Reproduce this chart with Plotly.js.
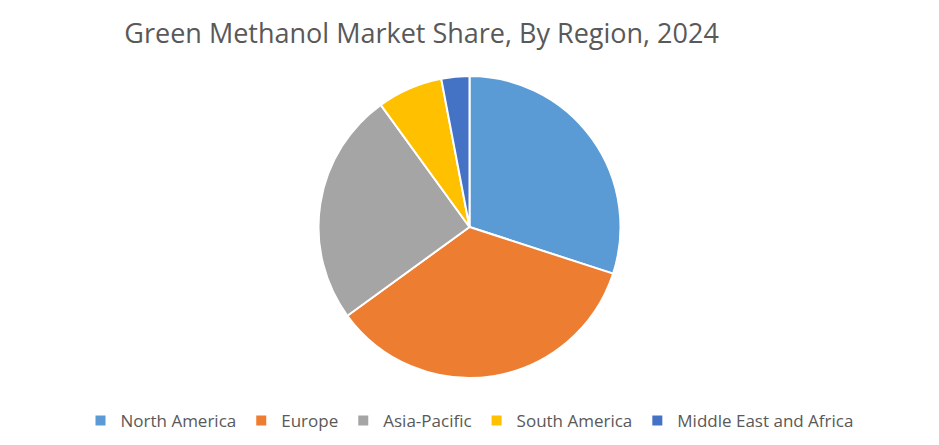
<!DOCTYPE html>
<html>
<head>
<meta charset="utf-8">
<script src="https://cdn.plot.ly/plotly-3.0.1.min.js"></script>
<style>html,body{margin:0;padding:0;background:#fff;}#chart{width:939px;height:445px;}</style>
</head>
<body>
<div id="chart"></div>
<script>
const regions = ["North America", "Europe", "Asia-Pacific", "South America", "Middle East and Africa"];
const shares = [30, 35, 25, 7, 3];
const colors = ["#5B9BD5", "#ED7D31", "#A5A5A5", "#FFC000", "#4472C4"];

const data = [{
  type: "pie",
  labels: regions,
  values: shares,
  sort: false,
  direction: "clockwise",
  rotation: 0,
  textinfo: "none",
  hoverinfo: "label+percent",
  marker: {colors: colors, line: {color: "#ffffff", width: 2}},
  domain: {x: [0, 1], y: [0, 1]}
}];

const layout = {
  width: 939,
  height: 445,
  margin: {l: 0, r: 0, t: 76, b: 67},
  paper_bgcolor: "#ffffff",
  font: {family: "Open Sans, Noto Sans, sans-serif", color: "#595959"},
  title: {
    text: "Green Methanol Market Share, By Region, 2024",
    font: {size: 27, color: "#595959", family: "Open Sans, Noto Sans, sans-serif"},
    x: 0.449, xanchor: "center",
    y: 0.925, yanchor: "middle"
  },
  showlegend: true,
  legend: {
    orientation: "h",
    x: 0.5, xanchor: "center",
    y: -0.142, yanchor: "middle",
    font: {size: 17, color: "#595959"},
    itemwidth: 30,
    traceorder: "normal"
  }
};

Plotly.newPlot("chart", data, layout, {displayModeBar: false, staticPlot: true});
</script>
</body>
</html>
